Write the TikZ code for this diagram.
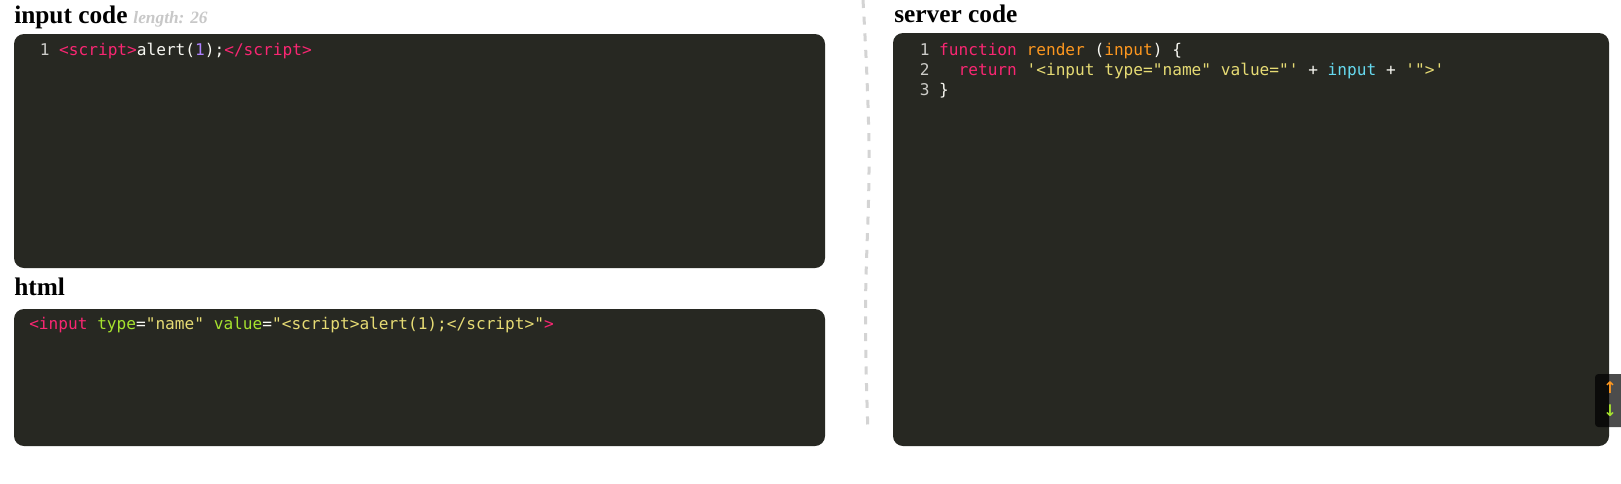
\documentclass[tikz,border=0pt]{standalone}
\usepackage{fontspec}
\setmainfont{Liberation Serif}
\newfontfamily\codefont{DejaVu Sans Mono}
\newfontfamily\symfont{DejaVu Sans}
\definecolor{codebg}{HTML}{272822}
\definecolor{mwhite}{HTML}{F8F8F2}
\definecolor{mpink}{HTML}{F92672}
\definecolor{morange}{HTML}{FD971F}
\definecolor{myellow}{HTML}{E6DB74}
\definecolor{mgreen}{HTML}{A6E22E}
\definecolor{mpurple}{HTML}{AE81FF}
\definecolor{mcyan}{HTML}{66D9EF}
\definecolor{lineno}{HTML}{CCCCC8}
\definecolor{notegray}{HTML}{C8C8C8}
\definecolor{sepgray}{HTML}{D4D4D4}
\begin{document}
\begin{tikzpicture}[x=0.75pt, y=-0.75pt]
    % Define styles
    \tikzset{
        codebox/.style={fill=codebg, rounded corners=7.5pt},
        heading/.style={inner sep=0pt, anchor=base west, font=\fontsize{19pt}{22pt}\selectfont\bfseries},
        lengthnote/.style={inner sep=0pt, anchor=base west, text=notegray, font=\fontsize{13pt}{15pt}\selectfont\bfseries\itshape},
        codeline/.style={inner sep=0pt, anchor=base west, text=mwhite, font=\codefont\fontsize{12.1pt}{14pt}\selectfont},
        sepline/.style={draw=sepgray, line width=2.25pt, dash pattern=on 6pt off 6.5pt},
        scrollbox/.style={fill=black, fill opacity=0.7, rounded corners=2.5pt},
        scrollarrow/.style={inner sep=0pt, font=\symfont\bfseries\fontsize{12pt}{14pt}\selectfont}
    }
    \useasboundingbox (0,0) rectangle (1621,483);
    \fill[white] (0,0) rectangle (1621,483);

    % Code panels
    \fill[codebox] (14,34) rectangle (825,268);
    \fill[codebox] (14,309) rectangle (825,446);
    \fill[codebox] (893,33) rectangle (1609,446);

    % Headers
    \node[heading] (inhead) at (14,23) {input code};
    \node[lengthnote] (inlen) at ([xshift=4pt]inhead.base east) {length: 26};
    \node[heading] (htmlhead) at (14,295) {html};
    \node[heading] (srvhead) at (894,22) {server code};

    % Input code
    \node[codeline] (inline1) at (39.5,55) {\textcolor{lineno}{1} \textcolor{mpink}{<script>}alert(\textcolor{mpurple}{1});\textcolor{mpink}{</script>}};

    % Html output
    \node[codeline] (htmlline1) at (29,329) {\textcolor{mpink}{<input} \textcolor{mgreen}{type}=\textcolor{myellow}{"name"} \textcolor{mgreen}{value}=\textcolor{myellow}{"<script>alert(1);</script>"}\textcolor{mpink}{>}};

    % Server code
    \node[codeline] (srvline1) at (919.5,55) {\textcolor{lineno}{1} \textcolor{mpink}{function} \textcolor{morange}{render} (\textcolor{morange}{input}) \{};
    \node[codeline] (srvline2) at (919.5,75) {\textcolor{lineno}{2}\ \ \ \textcolor{mpink}{return} \textcolor{myellow}{'<input type="name" value="'} + \textcolor{mcyan}{input} + \textcolor{myellow}{'">'}};
    \node[codeline] (srvline3) at (919.5,95) {\textcolor{lineno}{3} \}};

    % Separator
    \draw[sepline] plot[smooth, tension=0.7] coordinates {(863,0) (869,150) (865.5,310) (868,432)};

    % Scroll buttons
    \fill[scrollbox] (1595,374) rectangle (1630,427);
    \node[scrollarrow, text=morange] (scrollup) at (1610,388) {↑};
    \node[scrollarrow, text=mgreen] (scrolldown) at (1610,411) {↓};
\end{tikzpicture}
\end{document}
